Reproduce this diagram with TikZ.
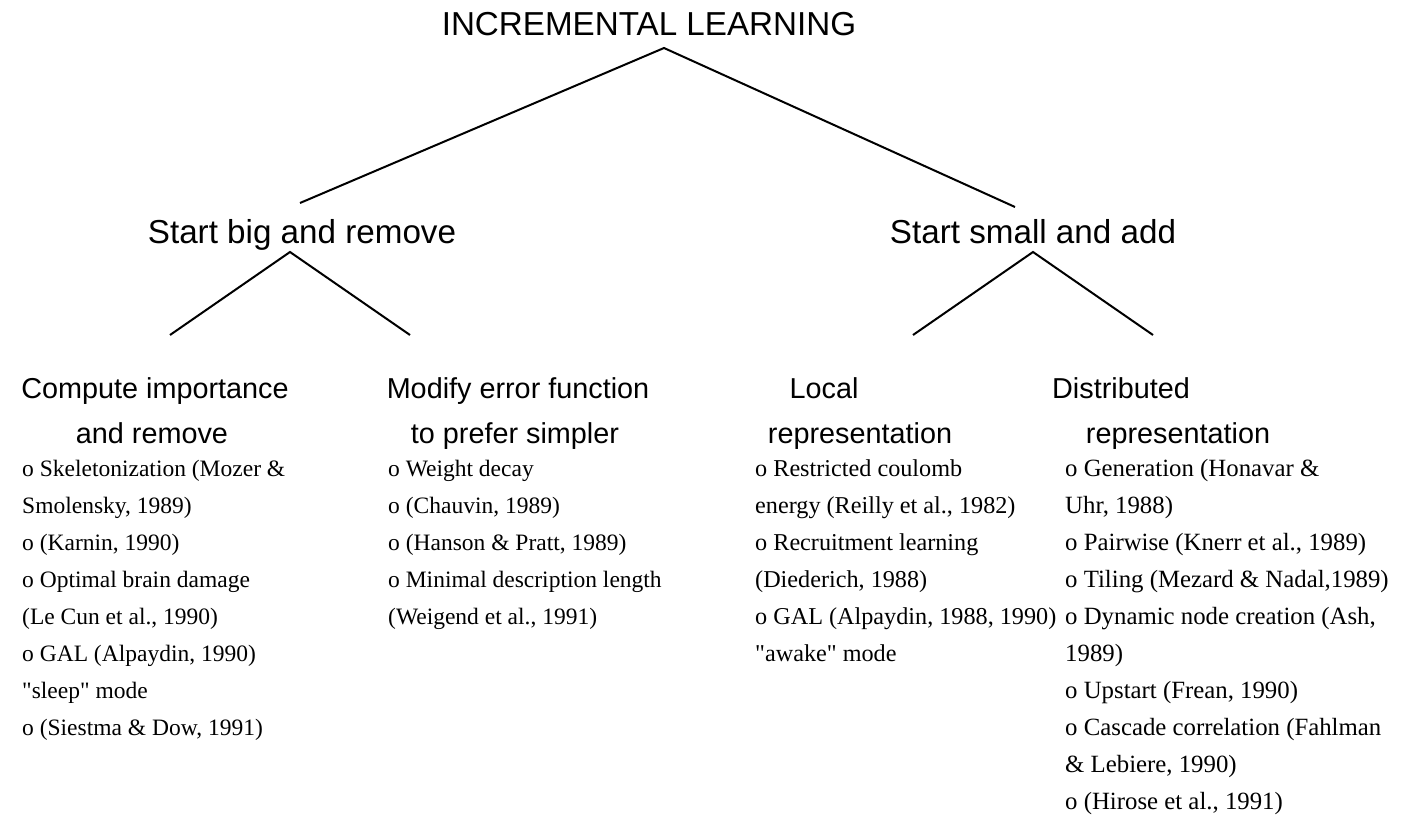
\documentclass[tikz,border=0pt]{standalone}
\usepackage{fontspec}
\setmainfont{Liberation Serif}[Ligatures=TeXOff]
\newfontfamily\headfont{Liberation Sans}
\begin{document}
\begin{tikzpicture}[x=1pt,y=-1pt,
  big/.style={font=\headfont\fontsize{33.2}{40}\selectfont, inner sep=0pt, anchor=base},
  mid/.style={font=\headfont\fontsize{28.8}{34}\selectfont, inner sep=0pt, anchor=base},
  item/.style={font=\fontsize{23.5}{28}\selectfont, inner sep=0pt, anchor=base west},
  itemc/.style={font=\fontsize{24.2}{28}\selectfont, inner sep=0pt, anchor=base west},
  itemd/.style={font=\fontsize{24.8}{28}\selectfont, inner sep=0pt, anchor=base west},
  branch/.style={line width=2pt}]
\fill[white] (0,0) rectangle (1405,832);
\useasboundingbox (0,0) rectangle (1405,832);

\node[big] (title) at (649,36) {INCREMENTAL LEARNING};
\node[big] (bigrem) at (302,243) {Start big and remove};
\node[big] (smalladd) at (1033,243) {Start small and add};

\node[mid] (ci1) at (155,398) {Compute importance};
\node[mid] (ci2) at (152,443) {and remove};
\node[mid] (me1) at (518,398) {Modify error function};
\node[mid] (me2) at (515,443) {to prefer simpler};
\node[mid] (lr1) at (824,398) {Local};
\node[mid] (lr2) at (860,443) {representation};
\node[mid] (dr1) at (1121,398) {Distributed};
\node[mid] (dr2) at (1178,443) {representation};

\coordinate (t0) at (664,48);
\coordinate (tL) at (300,203);
\coordinate (tR) at (1015,207);
\coordinate (b0) at (290,252);
\coordinate (bL) at (170,335);
\coordinate (bR) at (410,335);
\coordinate (s0) at (1033,252);
\coordinate (sL) at (913,335);
\coordinate (sR) at (1153,335);

\draw[branch] (tL) -- (t0) -- (tR);
\draw[branch] (bL) -- (b0) -- (bR);
\draw[branch] (sL) -- (s0) -- (sR);

\foreach \t [count=\i] in {{o Skeletonization (Mozer \&},{Smolensky, 1989)},{o (Karnin, 1990)},{o Optimal brain damage},{(Le Cun et al., 1990)},{o GAL (Alpaydin, 1990)},{"sleep" mode},{o (Siestma \& Dow, 1991)}}
  \node[item] (a\i) at (22,{476+37*(\i-1)}) {\t};

\foreach \t [count=\i] in {{o Weight decay},{o (Chauvin, 1989)},{o (Hanson \& Pratt, 1989)},{o Minimal description length},{(Weigend et al., 1991)}}
  \node[item] (b\i) at (388,{476+37*(\i-1)}) {\t};

\foreach \t [count=\i] in {{o Restricted coulomb},{energy (Reilly et al., 1982)},{o Recruitment learning},{(Diederich, 1988)},{o GAL (Alpaydin, 1988, 1990)},{"awake" mode}}
  \node[itemc] (c\i) at (755,{476+37*(\i-1)}) {\t};

\foreach \t [count=\i] in {{o Generation (Honavar \&},{Uhr, 1988)},{o Pairwise (Knerr et al., 1989)},{o Tiling (Mezard \& Nadal,1989)},{o Dynamic node creation (Ash,},{1989)},{o Upstart (Frean, 1990)},{o Cascade correlation (Fahlman},{\& Lebiere, 1990)},{o (Hirose et al., 1991)}}
  \node[itemd] (d\i) at (1065,{476+37*(\i-1)}) {\t};
\end{tikzpicture}
\end{document}
